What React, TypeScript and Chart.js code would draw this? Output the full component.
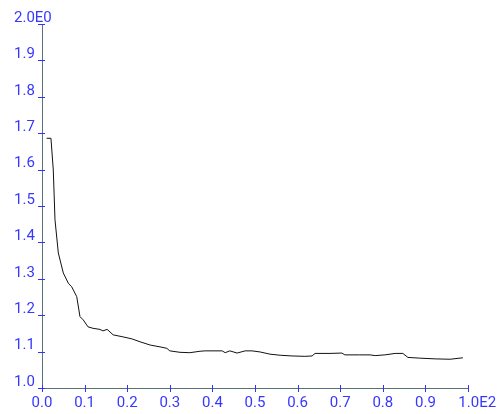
import React, { useEffect, useRef } from "react";
import { Chart, registerables } from "chart.js";

Chart.register(...registerables);

const xValues = [1.1, 2.1, 2.65, 3.05, 3.83, 5.0, 6.17, 6.97, 8.15, 8.92, 9.69, 10.8, 11.97, 13.6, 14.3, 15.3, 16.7, 18.8, 21.1, 23.0, 25.4, 27.7, 29.3, 30.0, 32.4, 34.7, 37.1, 38.3, 40.6, 42.3, 43.0, 44.1, 45.8, 47.7, 49.3, 51.2, 53.5, 55.9, 58.7, 61.7, 63.4, 64.1, 67.6, 70.4, 71.1, 74.6, 77.0, 78.2, 80.5, 82.9, 84.7, 85.9, 88.7, 92.3, 95.8, 98.8];
const yValues = [1.686, 1.686, 1.599, 1.462, 1.371, 1.316, 1.288, 1.278, 1.251, 1.196, 1.187, 1.168, 1.164, 1.161, 1.157, 1.161, 1.146, 1.141, 1.135, 1.127, 1.118, 1.113, 1.109, 1.102, 1.098, 1.097, 1.101, 1.102, 1.102, 1.102, 1.097, 1.102, 1.096, 1.102, 1.102, 1.099, 1.093, 1.09, 1.088, 1.087, 1.088, 1.095, 1.095, 1.096, 1.091, 1.091, 1.091, 1.089, 1.091, 1.095, 1.095, 1.084, 1.082, 1.08, 1.079, 1.083];

const xTickLabels = ["0.0", "0.1", "0.2", "0.3", "0.4", "0.5", "0.6", "0.7", "0.8", "0.9", "\u2007\u2007\u200a1.0E2"];
const yTickLabels = ["1.0", "1.1", "1.2", "1.3", "1.4", "1.5", "1.6", "1.7", "1.8", "1.9", "2.0E0"];

const LABEL_COLOR = "#3737ff";
const TICK_COLOR = "#3232ff";
const AXIS_COLOR = "#56727a";
const FONT = "Roboto, 'Liberation Sans', Arial, sans-serif";

const crossTicks = {
  id: "crossTicks",
  afterDraw(chart: any) {
    const { ctx } = chart;
    const xs = chart.scales.x;
    const ys = chart.scales.y;
    ctx.save();
    ctx.strokeStyle = TICK_COLOR;
    ctx.lineWidth = 1;
    ctx.beginPath();
    xs.ticks.forEach((t: any) => {
      const px = Math.round(xs.getPixelForValue(t.value)) + 0.5;
      ctx.moveTo(px, ys.bottom - 3);
      ctx.lineTo(px, ys.bottom + 4);
    });
    ys.ticks.forEach((t: any) => {
      const py = Math.round(ys.getPixelForValue(t.value)) + 0.5;
      ctx.moveTo(xs.left - 4, py);
      ctx.lineTo(xs.left + 3, py);
    });
    ctx.stroke();
    ctx.restore();
  },
};

export default function App() {
  const ref = useRef<HTMLCanvasElement>(null);
  useEffect(() => {
    if (!ref.current) return;
    const chart = new Chart(ref.current, {
      type: "line",
      data: {
        datasets: [
          {
            data: xValues.map((x, i) => ({ x, y: yValues[i] })),
            borderColor: "#111111",
            borderWidth: 1,
            pointRadius: 0,
            tension: 0,
            fill: false,
          },
        ],
      },
      options: {
        animation: false,
        responsive: true,
        maintainAspectRatio: false,
        layout: { padding: { left: 14, top: 24, right: 36, bottom: 0 } },
        plugins: { legend: { display: false }, tooltip: { enabled: false } },
        scales: {
          x: {
            type: "linear",
            min: 0,
            max: 100,
            grid: { display: false, drawTicks: false },
            border: { display: true, color: AXIS_COLOR, width: 1 },
            afterFit: (s: any) => {
              s.height = 26;
            },
            ticks: {
              stepSize: 10,
              padding: 6,
              maxRotation: 0,
              autoSkip: false,
              color: LABEL_COLOR,
              font: { family: FONT, size: 15 },
              callback: (_v: any, i: number) => xTickLabels[i],
            },
          },
          y: {
            type: "linear",
            min: 1,
            max: 2,
            grid: { display: false, drawTicks: false },
            border: { display: true, color: AXIS_COLOR, width: 1 },
            afterFit: (s: any) => {
              s.width = 28;
            },
            ticks: {
              stepSize: 0.1,
              mirror: true,
              padding: -28,
              labelOffset: -6,
              autoSkip: false,
              color: LABEL_COLOR,
              font: { family: FONT, size: 15 },
              callback: (_v: any, i: number) => yTickLabels[i],
            },
          },
        },
      },
      plugins: [crossTicks],
    });
    return () => chart.destroy();
  }, []);
  return (
    <div style={{ position: "fixed", left: 0, top: 0, width: 504, height: 414, background: "#fff" }}>
      <canvas ref={ref} />
    </div>
  );
}
